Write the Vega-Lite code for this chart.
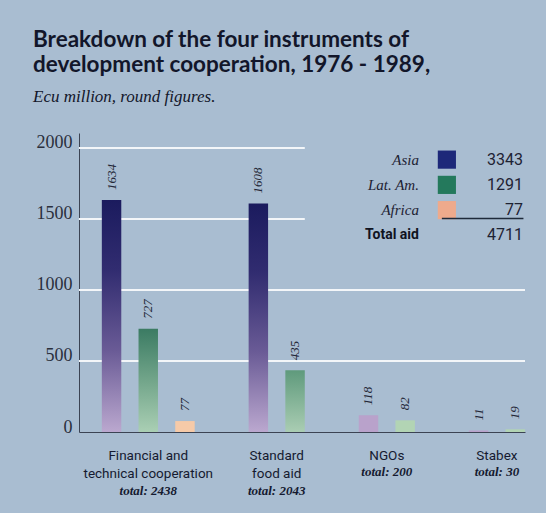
{
  "$schema": "https://vega.github.io/schema/vega-lite/v6.json",
  "width": 446,
  "height": 299,
  "autosize": "none",
  "padding": {"left": 79, "top": 133, "right": 21, "bottom": 81},
  "background": "#a9bdd1",
  "title": {
    "text": ["Breakdown of the four instruments of", "development cooperation, 1976 - 1989,"],
    "subtitle": "Ecu million, round figures.",
    "anchor": "start",
    "frame": "group",
    "dx": -46,
    "offset": 28,
    "font": "Lato",
    "fontSize": 22.5,
    "fontWeight": "bold",
    "color": "#12162a",
    "lineHeight": 25,
    "subtitleFont": "Liberation Serif",
    "subtitleFontSize": 17,
    "subtitleFontStyle": "italic",
    "subtitleColor": "#12162a",
    "subtitlePadding": 13
  },
  "config": {
    "view": {"stroke": null},
    "axisX": {"labels": false, "ticks": false, "title": null, "grid": false, "domainColor": "#3b4353", "domainWidth": 1},
    "axisY": {"grid": false, "ticks": false, "title": null, "domainColor": "#3b4353", "domainWidth": 1, "labelFont": "Liberation Serif", "labelFontSize": 18, "labelColor": "#2a2f3c", "labelPadding": 7, "labelBaseline": "alphabetic", "labelFlush": false}
  },
  "datasets": {
    "bars": [
      {"group": "FTC", "region": "Asia", "value": 1634},
      {"group": "FTC", "region": "Lat. Am.", "value": 727},
      {"group": "FTC", "region": "Africa", "value": 77},
      {"group": "SFA", "region": "Asia", "value": 1608},
      {"group": "SFA", "region": "Lat. Am.", "value": 435},
      {"group": "NGO", "region": "Asia", "value": 118},
      {"group": "NGO", "region": "Lat. Am.", "value": 82},
      {"group": "Stabex", "region": "Asia", "value": 11},
      {"group": "Stabex", "region": "Lat. Am.", "value": 19}
    ],
    "groups": [
      {"group": "FTC", "name": "Financial and\ntechnical cooperation", "total": 2438},
      {"group": "SFA", "name": "Standard\nfood aid", "total": 2043},
      {"group": "NGO", "name": "NGOs", "total": 200},
      {"group": "Stabex", "name": "Stabex", "total": 30}
    ],
    "grid": [{"v": 500}, {"v": 1000}, {"v": 1500}, {"v": 2000}],
    "legend": [
      {"key": "Asia", "total": "3343"},
      {"key": "Lat. Am.", "total": "1291"},
      {"key": "Africa", "total": "77"},
      {"key": "Total aid", "total": "4711"}
    ]
  },
  "layer": [
    {
      "layer": [
        {
          "data": {"name": "grid"},
          "transform": [{"filter": "datum.v <= 1000"}],
          "mark": {"type": "rule", "color": "#f3f6f9", "strokeWidth": 2},
          "encoding": {
            "y": {"field": "v", "type": "quantitative", "scale": {"domain": [0, 2105], "nice": false}, "axis": {"values": [0, 500, 1000, 1500, 2000], "format": "d"}}
          }
        },
        {
          "data": {"name": "grid"},
          "transform": [{"filter": "datum.v > 1000"}],
          "mark": {"type": "rule", "color": "#f3f6f9", "strokeWidth": 2},
          "encoding": {
            "y": {"field": "v", "type": "quantitative", "scale": {"domain": [0, 2105], "nice": false}},
            "x": {"datum": "FTC|Asia", "type": "nominal", "bandPosition": -1.18},
            "x2": {"datum": "SFA|Lat. Am.", "bandPosition": 1}
          }
        },
        {
          "data": {"name": "bars"},
          "transform": [{"calculate": "datum.group + '|' + datum.region", "as": "slot"}],
          "encoding": {
            "x": {
              "field": "slot",
              "type": "nominal",
              "sort": null,
              "scale": {
                "domain": ["FTC|Asia", "FTC|Lat. Am.", "FTC|Africa", "gap1", "SFA|Asia", "SFA|Lat. Am.", "gap2", "NGO|Asia", "NGO|Lat. Am.", "gap3", "Stabex|Asia", "Stabex|Lat. Am."],
                "paddingInner": 0.47,
                "paddingOuter": 0.311,
                "align": 1
              }
            },
            "y": {"field": "value", "type": "quantitative", "scale": {"domain": [0, 2105], "nice": false}}
          },
          "layer": [
            {
              "transform": [{"filter": "datum.region == 'Asia' && datum.value > 1000"}],
              "mark": {"type": "bar", "color": {"gradient": "linear", "x1": 0, "y1": 0, "x2": 0, "y2": 1, "stops": [
                {"offset": 0, "color": "#1b1b5e"},
                {"offset": 0.3, "color": "#312c70"},
                {"offset": 0.65, "color": "#6a5b96"},
                {"offset": 1, "color": "#bba8cf"}
              ]}}
            },
            {
              "transform": [{"filter": "datum.region == 'Asia' && datum.value <= 1000"}],
              "mark": {"type": "bar", "color": "#b9a2cb"}
            },
            {
              "transform": [{"filter": "datum.region == 'Lat. Am.' && datum.value > 600"}],
              "mark": {"type": "bar", "color": {"gradient": "linear", "x1": 0, "y1": 0, "x2": 0, "y2": 1, "stops": [
                {"offset": 0, "color": "#3b7b63"},
                {"offset": 0.5, "color": "#72a58a"},
                {"offset": 1, "color": "#aacfb4"}
              ]}}
            },
            {
              "transform": [{"filter": "datum.region == 'Lat. Am.' && datum.value > 200 && datum.value <= 600"}],
              "mark": {"type": "bar", "color": {"gradient": "linear", "x1": 0, "y1": 0, "x2": 0, "y2": 1, "stops": [
                {"offset": 0, "color": "#5f9a7c"},
                {"offset": 1, "color": "#aacdb3"}
              ]}}
            },
            {
              "transform": [{"filter": "datum.region == 'Lat. Am.' && datum.value <= 200"}],
              "mark": {"type": "bar", "color": "#b2d4b4"}
            },
            {
              "transform": [{"filter": "datum.region == 'Africa'"}],
              "mark": {"type": "bar", "color": "#f6caa8"}
            },
            {
              "mark": {"type": "text", "angle": 270, "align": "left", "baseline": "middle", "dx": 10, "font": "Liberation Serif", "fontStyle": "italic", "fontSize": 13, "color": "#242838"},
              "encoding": {"text": {"field": "value", "type": "quantitative"}}
            }
          ]
        },
        {
          "data": {"name": "groups"},
          "transform": [
            {"calculate": "datum.group == 'FTC' ? 'FTC|Lat. Am.' : datum.group + '|Asia'", "as": "slot"},
            {"calculate": "'total: ' + datum.total", "as": "totalText"}
          ],
          "encoding": {
            "x": {"field": "slot", "type": "nominal"},
            "y": {"datum": 0, "type": "quantitative", "scale": {"domain": [0, 2105], "nice": false}}
          },
          "layer": [
            {
              "transform": [{"filter": "datum.group == 'FTC'"}],
              "mark": {"type": "text", "baseline": "top", "align": "center", "dy": 17, "lineBreak": "\n", "lineHeight": 18, "font": "Roboto", "fontSize": 13.5, "color": "#151a30"},
              "encoding": {"text": {"field": "name"}}
            },
            {
              "transform": [{"filter": "datum.group != 'FTC'"}],
              "mark": {"type": "text", "baseline": "top", "align": "center", "dy": 17, "dx": 18.35, "lineBreak": "\n", "lineHeight": 18, "font": "Roboto", "fontSize": 13.5, "color": "#151a30"},
              "encoding": {"text": {"field": "name"}}
            },
            {
              "transform": [{"filter": "datum.group == 'FTC'"}],
              "mark": {"type": "text", "baseline": "middle", "align": "center", "dy": 59, "font": "Liberation Serif", "fontStyle": "italic", "fontWeight": "bold", "fontSize": 13, "color": "#151a30"},
              "encoding": {"text": {"field": "totalText"}}
            },
            {
              "transform": [{"filter": "datum.group == 'SFA'"}],
              "mark": {"type": "text", "baseline": "middle", "align": "center", "dy": 59, "dx": 18.35, "font": "Liberation Serif", "fontStyle": "italic", "fontWeight": "bold", "fontSize": 13, "color": "#151a30"},
              "encoding": {"text": {"field": "totalText"}}
            },
            {
              "transform": [{"filter": "datum.group == 'NGO' || datum.group == 'Stabex'"}],
              "mark": {"type": "text", "baseline": "middle", "align": "center", "dy": 40, "dx": 18.35, "font": "Liberation Serif", "fontStyle": "italic", "fontWeight": "bold", "fontSize": 13, "color": "#151a30"},
              "encoding": {"text": {"field": "totalText"}}
            }
          ]
        }
      ]
    },
    {
      "data": {"name": "legend"},
      "encoding": {
        "y": {"field": "key", "type": "nominal", "scale": {"type": "point", "domain": ["Asia", "Lat. Am.", "Africa", "Total aid"], "range": [14, 115]}, "axis": null}
      },
      "layer": [
        {
          "transform": [{"filter": "datum.key != 'Total aid'"}],
          "mark": {"type": "text", "align": "right", "baseline": "middle", "dx": 4, "font": "Liberation Serif", "fontStyle": "italic", "fontSize": 15, "color": "#1e2233"},
          "encoding": {"x": {"datum": "NGO|Lat. Am.", "type": "nominal", "bandPosition": 1}, "text": {"field": "key"}}
        },
        {
          "transform": [{"filter": "datum.key == 'Total aid'"}],
          "mark": {"type": "text", "align": "right", "baseline": "middle", "dx": 4, "font": "Roboto", "fontWeight": "bold", "fontSize": 14, "color": "#10131f"},
          "encoding": {"x": {"datum": "NGO|Lat. Am.", "type": "nominal", "bandPosition": 1}, "text": {"field": "key"}}
        },
        {
          "transform": [{"filter": "datum.key != 'Total aid'"}],
          "mark": {"type": "point", "shape": "square", "filled": true, "size": 330, "opacity": 1, "xOffset": 5},
          "encoding": {
            "x": {"datum": "gap3", "type": "nominal"},
            "color": {"field": "key", "type": "nominal", "scale": {"domain": ["Asia", "Lat. Am.", "Africa"], "range": ["#1d2879", "#24795c", "#eeaa8c"]}, "legend": null}
          }
        },
        {
          "mark": {"type": "text", "align": "right", "baseline": "middle", "dx": -2, "font": "Roboto", "fontSize": 16, "color": "#1e2233"},
          "encoding": {"x": {"datum": "Stabex|Lat. Am.", "type": "nominal", "bandPosition": 1}, "text": {"field": "total"}}
        },
        {
          "transform": [{"filter": "datum.key == 'Total aid'"}],
          "mark": {"type": "rule", "yOffset": -17, "color": "#1e2a3a", "strokeWidth": 1.5},
          "encoding": {"x": {"datum": "Stabex|Lat. Am.", "type": "nominal", "bandPosition": 0.92}, "x2": {"datum": "gap3"}}
        }
      ]
    }
  ],
  "resolve": {"scale": {"y": "independent"}}
}
